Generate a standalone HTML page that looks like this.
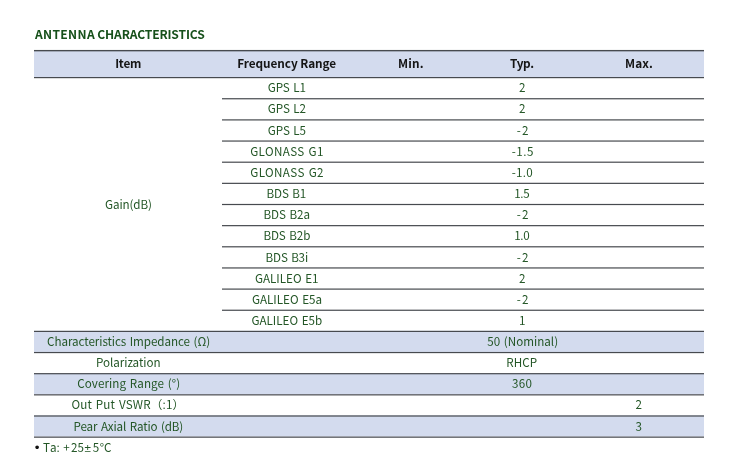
<!DOCTYPE html>
<html><head><meta charset="utf-8"><style>
html,body{margin:0;padding:0;background:#fff;width:746px;height:463px;overflow:hidden}
svg{display:block;will-change:transform}
text{font-family:"Liberation Sans","Noto Sans CJK SC",sans-serif}
.b{word-spacing:1px;font-family:"Noto Sans CJK SC","Liberation Sans",sans-serif;font-weight:400;font-size:11.65px;fill:#235626;text-anchor:middle}
.fn{font-family:"Noto Sans CJK SC","Liberation Sans",sans-serif;font-weight:400;font-size:11.65px;fill:#235626}
.h{font-family:"Noto Sans CJK SC","Liberation Sans",sans-serif;font-weight:700;font-size:11.8px;fill:#151515;text-anchor:middle}
.st{text-anchor:start}
.lib{font-family:'Liberation Sans',sans-serif}
.ti{font-family:"Noto Sans CJK SC","Liberation Sans",sans-serif;font-weight:700;font-size:12.1px;fill:#16501a}
</style></head><body>
<svg width="746" height="463" viewBox="0 0 746 463">
<rect x="34" y="50" width="670" height="27.0" fill="#d3dbee"/>
<rect x="34" y="330.80" width="670" height="21.15" fill="#d3dbee"/>
<rect x="34" y="373.10" width="670" height="21.15" fill="#d3dbee"/>
<rect x="34" y="415.40" width="670" height="21.15" fill="#d3dbee"/>
<rect x="34" y="49.95" width="670" height="1.4" fill="#474a4f"/>
<rect x="34" y="77.00" width="670" height="1.2" fill="#474a4f"/>
<rect x="222" y="98.15" width="482" height="1.2" fill="#474a4f"/>
<rect x="222" y="119.30" width="482" height="1.2" fill="#474a4f"/>
<rect x="222" y="140.45" width="482" height="1.2" fill="#474a4f"/>
<rect x="222" y="161.60" width="482" height="1.2" fill="#474a4f"/>
<rect x="222" y="182.75" width="482" height="1.2" fill="#474a4f"/>
<rect x="222" y="203.90" width="482" height="1.2" fill="#474a4f"/>
<rect x="222" y="225.05" width="482" height="1.2" fill="#474a4f"/>
<rect x="222" y="246.20" width="482" height="1.2" fill="#474a4f"/>
<rect x="222" y="267.35" width="482" height="1.2" fill="#474a4f"/>
<rect x="222" y="288.50" width="482" height="1.2" fill="#474a4f"/>
<rect x="222" y="309.65" width="482" height="1.2" fill="#474a4f"/>
<rect x="34" y="330.80" width="670" height="1.2" fill="#474a4f"/>
<rect x="34" y="351.95" width="670" height="1.2" fill="#474a4f"/>
<rect x="34" y="373.10" width="670" height="1.2" fill="#474a4f"/>
<rect x="34" y="394.25" width="670" height="1.2" fill="#474a4f"/>
<rect x="34" y="415.40" width="670" height="1.2" fill="#474a4f"/>
<rect x="34" y="436.55" width="670" height="1.2" fill="#474a4f"/>
<text y="38.6" class="ti"><tspan x="34.9" style="letter-spacing:0.35px">ANTENNA</tspan> <tspan x="97.3" style="letter-spacing:-0.15px">CHARACTERISTICS</tspan></text>
<text x="115.15" y="67.80" class="h st" style="letter-spacing:-0.200px">Item</text>
<text x="237.25" y="67.80" class="h st" style="letter-spacing:-0.064px">Frequency Range</text>
<text x="398.10" y="67.80" class="h st" style="letter-spacing:0.133px">Min.</text>
<text x="510.10" y="67.80" class="h st" style="letter-spacing:-0.400px">Typ.</text>
<text x="625.05" y="67.80" class="h st" style="letter-spacing:0.133px">Max.</text>
<text x="267.80" y="91.65" class="b st" style="letter-spacing:-0.100px">GPS L1</text>
<text x="519.05" y="91.65" class="b st">2</text>
<text x="267.80" y="113.05" class="b st" style="letter-spacing:-0.090px">GPS L2</text>
<text x="519.05" y="113.05" class="b st">2</text>
<text x="267.80" y="134.65" class="b st" style="letter-spacing:-0.090px">GPS L5</text>
<text x="516.65" y="134.65" class="b st" style="letter-spacing:1.200px">-2</text>
<text x="250.20" y="156.05" class="b st" style="letter-spacing:0.367px">GLONASS G1</text>
<text x="511.65" y="156.05" class="b st" style="letter-spacing:0.567px">-1.5</text>
<text x="250.30" y="177.05" class="b st" style="letter-spacing:0.367px">GLONASS G2</text>
<text x="511.65" y="177.05" class="b st" style="letter-spacing:0.317px">-1.0</text>
<text x="266.50" y="197.75" class="b st" style="letter-spacing:-0.110px">BDS B1</text>
<text x="514.15" y="197.75" class="b st" style="letter-spacing:-0.250px">1.5</text>
<text x="263.40" y="218.95" class="b st" style="letter-spacing:-0.042px">BDS B2a</text>
<text x="516.65" y="218.95" class="b st" style="letter-spacing:1.200px">-2</text>
<text x="263.40" y="240.15" class="b st" style="letter-spacing:-0.092px">BDS B2b</text>
<text x="514.15" y="240.15" class="b st" style="letter-spacing:-0.350px">1.0</text>
<text x="265.60" y="261.55" class="b st" style="letter-spacing:-0.167px">BDS B3i</text>
<text x="516.65" y="261.55" class="b st" style="letter-spacing:1.200px">-2</text>
<text x="255.00" y="282.85" class="b st">GALILEO E1</text>
<text x="519.05" y="282.85" class="b st">2</text>
<text x="251.95" y="304.05" class="b st">GALILEO E5a</text>
<text x="516.65" y="304.05" class="b st" style="letter-spacing:1.200px">-2</text>
<text x="251.43" y="325.15" class="b st">GALILEO E5b</text>
<text x="518.92" y="325.15" class="b st">1</text>
<text x="105.10" y="208.50" class="b st" style="letter-spacing:-0.121px">Gain(dB)</text>
<text x="47.10" y="346.45" class="b st" style="letter-spacing:-0.068px">Characteristics Impedance (Ω)</text>
<text x="487.27" y="346.45" class="b st">50 (Nominal)</text>
<text x="96.00" y="366.60" class="b st" style="letter-spacing:-0.050px">Polarization</text>
<text x="506.30" y="366.60" class="b st" style="letter-spacing:0.033px">RHCP</text>
<text x="77.20" y="388.05" class="b st" style="letter-spacing:0.085px">Covering Range (°)</text>
<text x="512.05" y="388.05" class="b st" style="letter-spacing:0.275px">360</text>
<text x="71.40" y="409.35" class="b st" style="letter-spacing:0.173px">Out Put VSWR（:1）</text>
<text x="635.60" y="409.35" class="b st">2</text>
<text x="73.50" y="430.95" class="b st" style="letter-spacing:-0.120px">Pear Axial Ratio (dB)</text>
<text x="635.58" y="430.95" class="b st">3</text>
<text x="34.8" y="451.95" class="lib" style="font-size:13.5px;fill:#111">•</text>
<text y="452.2" class="fn"><tspan x="43.0 50.0 56.4">Ta:</tspan><tspan x="63.2 70.9 77.5">+25</tspan><tspan class="lib" x="84.6">±</tspan><tspan x="92.7 99.8 104.0">5°C</tspan></text>
</svg>
</body></html>
